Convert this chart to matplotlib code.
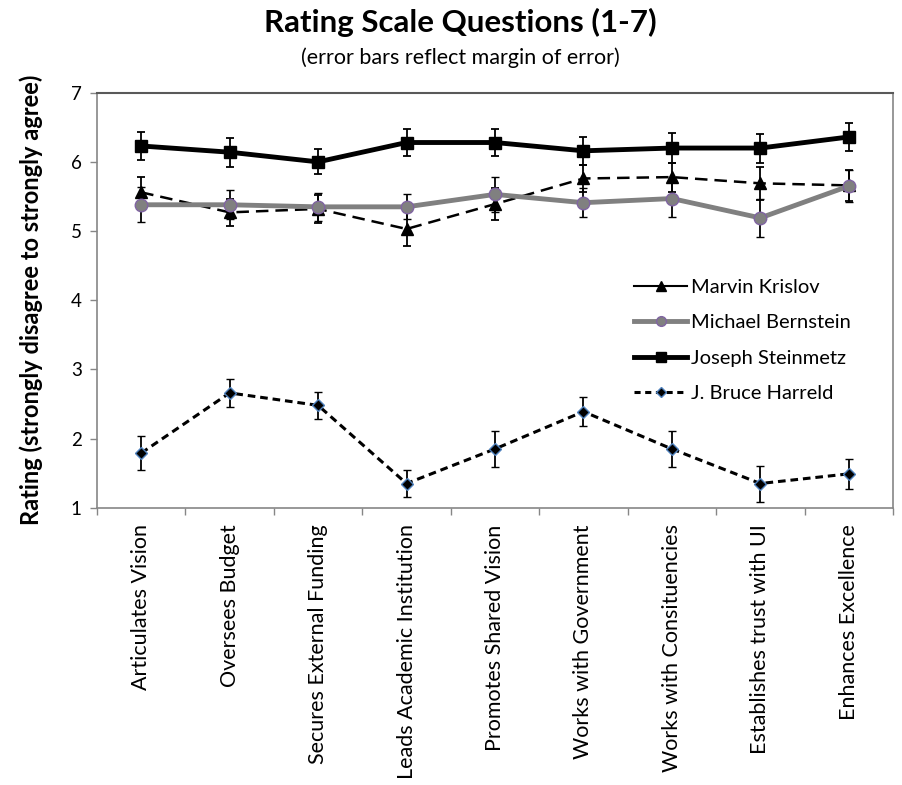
import numpy as np
import matplotlib
matplotlib.use("Agg")
import matplotlib.pyplot as plt
from matplotlib.lines import Line2D

plt.rcParams['font.family'] = ['Lato', 'DejaVu Sans']

questions = ["Articulates Vision", "Oversees Budget", "Secures External Funding",
             "Leads Academic Institution", "Promotes Shared Vision",
             "Works with Government", "Works with Consituencies",
             "Establishes trust with UI", "Enhances Excellence"]

krislov = [5.56, 5.27, 5.32, 5.03, 5.39, 5.76, 5.78, 5.69, 5.66]
krislov_err = [0.22, 0.20, 0.20, 0.24, 0.23, 0.20, 0.21, 0.24, 0.22]

bernstein = [5.38, 5.38, 5.35, 5.35, 5.53, 5.41, 5.47, 5.19, 5.65]
bernstein_err = [0.25, 0.21, 0.20, 0.18, 0.25, 0.21, 0.26, 0.27, 0.23]

steinmetz = [6.23, 6.14, 6.00, 6.28, 6.28, 6.16, 6.20, 6.20, 6.36]
steinmetz_err = [0.20, 0.21, 0.18, 0.19, 0.20, 0.20, 0.22, 0.21, 0.20]

harreld = [1.79, 2.66, 2.48, 1.35, 1.85, 2.39, 1.85, 1.35, 1.49]
harreld_err = [0.25, 0.20, 0.20, 0.19, 0.26, 0.21, 0.26, 0.26, 0.22]

names = ['Marvin Krislov', 'Michael Bernstein', 'Joseph Steinmetz', 'J. Bruce Harreld']

x = np.arange(len(questions))

fig = plt.figure(figsize=(9.02, 7.85), dpi=100)
ax = fig.add_axes([0.1075, 0.3532, 0.8825, 0.5287])

err_kw = dict(ecolor='black', elinewidth=1.3, capsize=3.2, capthick=1.3)

ax.errorbar(x, krislov, yerr=krislov_err, color='black', lw=1.8,
            dashes=(5, 2.8), marker='^', ms=8, mfc='black', mec='black', **err_kw)
ax.errorbar(x, bernstein, yerr=bernstein_err, color='#808080', lw=3.5,
            marker='o', ms=9, mfc='#808080', mec='#8064a2', mew=1, **err_kw)
ax.errorbar(x, steinmetz, yerr=steinmetz_err, color='black', lw=3.5,
            marker='s', ms=9, mfc='black', mec='black', **err_kw)
ax.errorbar(x, harreld, yerr=harreld_err, color='black', lw=2.2,
            dashes=(2.5, 1.6), marker='D', ms=6.5, mfc='black', mec='#4f81bd',
            mew=1, **err_kw)

ax.set_xlim(-0.5, len(questions) - 0.5)
ax.set_ylim(1, 7)
ax.set_yticks(range(1, 8))
ax.set_xticks(x)
ax.set_xticklabels(questions, rotation=90, fontsize=15.5)
ax.set_xticks(np.arange(-0.5, len(questions)), minor=True)
ax.tick_params(axis='x', which='major', length=0, pad=12)
ax.tick_params(axis='x', which='minor', length=5, color='#868686', width=1)
ax.tick_params(axis='y', length=5, color='#868686', width=1, labelsize=13.5, pad=6)

for side in ['left', 'bottom', 'right']:
    ax.spines[side].set_color('#868686')
    ax.spines[side].set_linewidth(1.2)
ax.spines['top'].set_color('#595959')
ax.spines['top'].set_linewidth(1.5)

ax.set_ylabel('Rating (strongly disagree to strongly agree)', fontsize=17,
              fontweight='bold', labelpad=20)

# legend keys drawn without the error bars
handles = [
    Line2D([], [], color='black', lw=1.5, marker='^', ms=7, mfc='black'),
    Line2D([], [], color='#808080', lw=3.5, marker='o', ms=7, mfc='#808080',
           mec='#8064a2', mew=1),
    Line2D([], [], color='black', lw=3.5, marker='s', ms=7, mfc='black'),
    Line2D([], [], color='black', lw=2.2, dashes=(2.0, 1.5), marker='D', ms=5,
           mfc='black', mec='#4f81bd', mew=1),
]
ax.legend(handles, names, loc='center left', bbox_to_anchor=(0.665, 0.403),
          frameon=False, fontsize=14.5, handlelength=2.6, handletextpad=0.2,
          labelspacing=0.9, borderaxespad=0)

fig.text(0.510, 0.972, 'Rating Scale Questions (1-7)', ha='center', va='center',
         fontsize=22.5, fontweight='bold')
fig.text(0.510, 0.926, '(error bars reflect margin of error)', ha='center',
         va='center', fontsize=15.5)

fig.savefig('out.png', dpi=100)
